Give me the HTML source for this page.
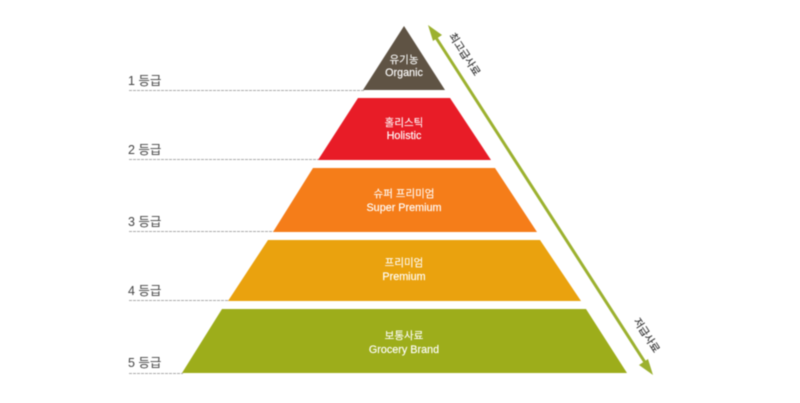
<!DOCTYPE html>
<html lang="ko"><head><meta charset="utf-8"><style>
html,body{margin:0;padding:0;background:#fff}
svg{display:block;filter:blur(.4px)}
text{font-family:"Liberation Sans","Noto Sans CJK KR",sans-serif}
.w{fill:#fff;font-size:10.500px;text-anchor:middle;stroke:#fff;stroke-width:.08px}
.e{fill:#fff;font-size:10.800px;text-anchor:middle;stroke:#fff;stroke-width:.15px}
.g{fill:#444;font-size:12.500px}
.s{fill:#333;font-size:10.500px;text-anchor:middle;stroke:#333;stroke-width:.15px}
.d{stroke:#aaa;stroke-width:1;stroke-dasharray:3 1;fill:none}
</style></head><body>
<svg width="800" height="403" viewBox="0 0 800 403" xmlns="http://www.w3.org/2000/svg">
<rect width="800" height="403" fill="#fff"/>
<path class="d" d="M129 90.500H364M129 159.500H319M129 231.500H274M129 300.500H229M129 373.500H183"/>
<polygon points="404,26 445,90 363,90" fill="#5f5344"/>
<polygon points="358,98 450,98 491,160 318,160" fill="#e81c27"/>
<polygon points="313,168 495,168 537,232 273,232" fill="#f57d19"/>
<polygon points="268,240 540,240 581,301 228,301" fill="#eaa20e"/>
<polygon points="222,309 586,309 627,373 182,373" fill="#9dad1b"/>
<line x1="433" y1="33" x2="648" y2="367" stroke="#9cb12f" stroke-width="3"/>
<polygon points="428,25 442,35 433,41" fill="#9cb12f"/>
<polygon points="653,375 639,365 648,359" fill="#9cb12f"/>
<text class="w" x="404" y="63">유기농</text><text class="e" x="404" y="76">Organic</text>
<text class="w" x="404" y="126">홀리스틱</text><text class="e" x="404" y="139">Holistic</text>
<text class="w" x="404" y="197">슈퍼 프리미엄</text><text class="e" x="404" y="211">Super Premium</text>
<text class="w" x="404" y="266">프리미엄</text><text class="e" x="404" y="280">Premium</text>
<text class="w" x="404" y="339">보통사료</text><text class="e" x="404" y="353">Grocery Brand</text>
<text class="g" x="128" y="85">1 등급</text>
<text class="g" x="128" y="154">2 등급</text>
<text class="g" x="128" y="226">3 등급</text>
<text class="g" x="128" y="295">4 등급</text>
<text class="g" x="128" y="367">5 등급</text>
<text class="s" transform="translate(465,54) rotate(57)" x="0" y="4">최고급사료</text>
<text class="s" transform="translate(647,335) rotate(57)" x="0" y="4">저급사료</text>
</svg>
</body></html>
